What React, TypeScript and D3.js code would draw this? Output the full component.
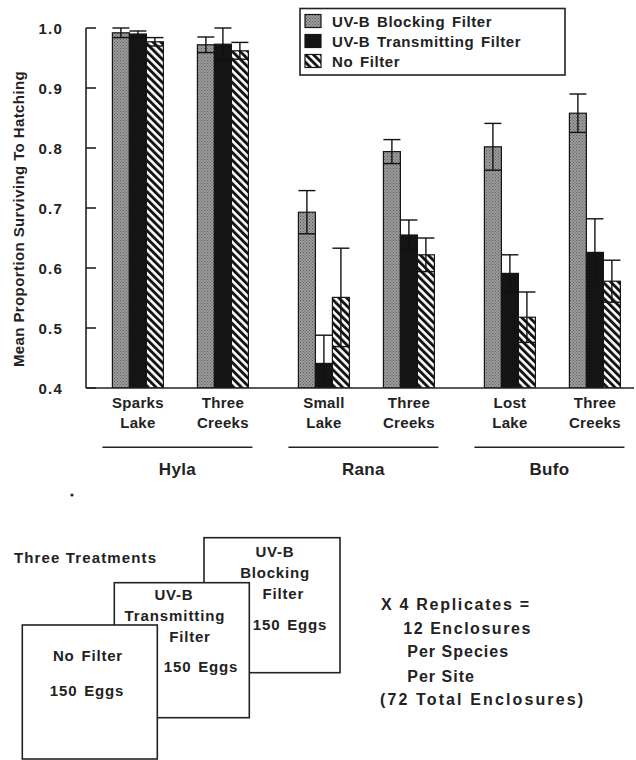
import React from 'react';
import * as d3 from 'd3';

const species = ['Hyla', 'Rana', 'Bufo'];
const siteSpecies = ['Hyla', 'Hyla', 'Rana', 'Rana', 'Bufo', 'Bufo'];
const siteLine1 = ['Sparks', 'Three', 'Small', 'Three', 'Lost', 'Three'];
const siteLine2 = ['Lake', 'Creeks', 'Lake', 'Creeks', 'Lake', 'Creeks'];
const treatments = ['UV-B Blocking Filter', 'UV-B Transmitting Filter', 'No Filter'];

const blockingMean = [0.992, 0.972, 0.693, 0.794, 0.802, 0.858];
const blockingSE = [0.008, 0.013, 0.036, 0.02, 0.039, 0.032];
const transmittingMean = [0.99, 0.973, 0.441, 0.655, 0.591, 0.626];
const transmittingSE = [0.005, 0.027, 0.047, 0.025, 0.031, 0.056];
const noFilterMean = [0.977, 0.962, 0.551, 0.622, 0.518, 0.578];
const noFilterSE = [0.007, 0.014, 0.082, 0.028, 0.042, 0.035];

const yTicks = [0.4, 0.5, 0.6, 0.7, 0.8, 0.9, 1.0];

const FONT = "'Liberation Sans', Arial, Helvetica, sans-serif";
const INK = '#222';

export default function App() {
  const y = d3.scaleLinear().domain([0.4, 1.0]).range([388, 28]);
  const xSpecies = d3.scaleBand<string>().domain(species).range([87.4, 645.4]);
  const xSite = d3.scaleBand<string>().domain(['0', '1']).range([8, 178]);
  const xTreat = d3.scaleBand<string>().domain(treatments).range([0, 85]).paddingInner(0).paddingOuter(1);
  const bw = xTreat.bandwidth();

  const means = [blockingMean, transmittingMean, noFilterMean];
  const ses = [blockingSE, transmittingSE, noFilterSE];
  const fills = ['url(#stipple)', '#141414', 'url(#stripes)'];

  const siteIndex = siteSpecies.map((sp, i) => siteSpecies.slice(0, i).filter((s) => s === sp).length);
  const siteX = siteSpecies.map((sp, i) => (xSpecies(sp) as number) + (xSite(String(siteIndex[i])) as number));
  const siteCenter = siteX.map((x) => x + (xTreat(treatments[0]) as number) + (bw * 3) / 2);

  const text = (extra: any = {}) => ({ fontFamily: FONT, fontWeight: 700, fill: INK, ...extra });

  return (
    <svg width={636} height={760} style={{ position: 'absolute', left: 0, top: 0, background: '#fff' }}>
      <defs>
        <pattern id="stipple" width={3} height={3} patternUnits="userSpaceOnUse">
          <rect width={3} height={3} fill="#9c9c9c" />
          <rect x={0} y={0} width={1} height={1} fill="#5e5e5e" />
          <rect x={1.5} y={1.5} width={1} height={1} fill="#5e5e5e" />
        </pattern>
        <pattern id="stripes" width={5.5} height={5.5} patternUnits="userSpaceOnUse" patternTransform="rotate(-45)">
          <rect width={5.5} height={5.5} fill="#fff" />
          <rect width={2.9} height={5.5} fill="#141414" />
        </pattern>
        <clipPath id="plot">
          <rect x={86} y={0} width={550} height={388} />
        </clipPath>
      </defs>

      {/* bars */}
      <g clipPath="url(#plot)">
        {siteSpecies.map((sp, i) =>
          treatments.map((t, k) => {
            const x = siteX[i] + (xTreat(t) as number);
            const m = means[k][i];
            return (
              <rect key={`b${i}-${k}`} x={x} y={y(m)} width={bw} height={y(0.4) - y(m)}
                fill={fills[k]} stroke="#161616" strokeWidth={1.2} />
            );
          })
        )}
        {siteSpecies.map((sp, i) =>
          treatments.map((t, k) => {
            const x = siteX[i] + (xTreat(t) as number);
            const cx = x + bw / 2;
            const m = means[k][i];
            const se = ses[k][i];
            const lo = Math.max(0.4, m - se);
            return (
              <g key={`e${i}-${k}`} stroke="#111" strokeWidth={1.4}>
                <line x1={cx} x2={cx} y1={y(m + se)} y2={y(lo)} />
                <line x1={x} x2={x + bw} y1={y(m + se)} y2={y(m + se)} />
                <line x1={x} x2={x + bw} y1={y(lo)} y2={y(lo)} />
              </g>
            );
          })
        )}
      </g>

      {/* axes */}
      <line x1={86} x2={86} y1={28} y2={388} stroke={INK} strokeWidth={1.6} />
      <line x1={86} x2={634} y1={388} y2={388} stroke={INK} strokeWidth={1.6} />
      {yTicks.map((v) => (
        <g key={`t${v}`}>
          <line x1={86} x2={96} y1={y(v)} y2={y(v)} stroke={INK} strokeWidth={1.6} />
          <text x={63} y={y(v) + 5.5} textAnchor="end" fontSize={15} letterSpacing={1.2} style={text()}>
            {d3.format('.1f')(v)}
          </text>
        </g>
      ))}
      <text transform="translate(24,219) rotate(-90)" textAnchor="middle" fontSize={15} letterSpacing={0.4} style={text()}>
        Mean Proportion Surviving To Hatching
      </text>

      {/* site labels */}
      {siteSpecies.map((sp, i) => (
        <g key={`s${i}`}>
          <text x={siteCenter[i]} y={408.3} textAnchor="middle" fontSize={15} letterSpacing={0.3} style={text()}>
            {siteLine1[i]}
          </text>
          <text x={siteCenter[i]} y={428.3} textAnchor="middle" fontSize={15} letterSpacing={0.3} style={text()}>
            {siteLine2[i]}
          </text>
        </g>
      ))}

      {/* species labels */}
      {species.map((sp) => {
        const c = (xSpecies(sp) as number) + xSpecies.bandwidth() / 2 - 3;
        return (
          <g key={`sp${sp}`}>
            <line x1={c - 75} x2={c + 75} y1={447.3} y2={447.3} stroke={INK} strokeWidth={1.6} />
            <text x={c} y={475} textAnchor="middle" fontSize={17} letterSpacing={0.3} style={text()}>
              {sp}
            </text>
          </g>
        );
      })}

      {/* legend */}
      <rect x={300} y={8.5} width={265} height={66.5} fill="#fff" stroke={INK} strokeWidth={1.6} />
      {treatments.map((t, k) => (
        <g key={`l${k}`}>
          <rect x={305} y={14.5 + k * 20} width={16} height={13} fill={fills[k]} stroke="#161616" strokeWidth={1.2} />
          <text x={332} y={26.5 + k * 20} fontSize={15} letterSpacing={0.6} wordSpacing={2} style={text()}>
            {t}
          </text>
        </g>
      ))}

      {/* diagram */}
      <circle cx={72} cy={495} r={1.6} fill={INK} />
      <text x={14} y={563} fontSize={15} textLength={142} lengthAdjust="spacing" style={text()}>
        Three Treatments
      </text>

      <rect x={204} y={537.7} width={136} height={135} fill="#fff" stroke={INK} strokeWidth={1.6} />
      <text x={275} y={557.3} textAnchor="middle" fontSize={15} letterSpacing={0.8} style={text()}>UV-B</text>
      <text x={275} y={578.3} textAnchor="middle" fontSize={15} letterSpacing={0.8} style={text()}>Blocking</text>
      <text x={283.3} y={599.3} textAnchor="middle" fontSize={15} letterSpacing={0.8} style={text()}>Filter</text>
      <text x={290} y={630} textAnchor="middle" fontSize={15} letterSpacing={0.8} wordSpacing={2} style={text()}>150 Eggs</text>

      <rect x={114.3} y={582.7} width={135} height={135} fill="#fff" stroke={INK} strokeWidth={1.6} />
      <text x={174} y={600} textAnchor="middle" fontSize={15} letterSpacing={0.8} style={text()}>UV-B</text>
      <text x={175} y={620.5} textAnchor="middle" fontSize={15} letterSpacing={0.9} style={text()}>Transmitting</text>
      <text x={190} y={641.7} textAnchor="middle" fontSize={15} letterSpacing={0.8} style={text()}>Filter</text>
      <text x={201} y={672} textAnchor="middle" fontSize={15} letterSpacing={0.8} wordSpacing={2} style={text()}>150 Eggs</text>

      <rect x={22.3} y={625} width={135} height={134} fill="#fff" stroke={INK} strokeWidth={1.6} />
      <text x={88} y={660.7} textAnchor="middle" fontSize={15} letterSpacing={0.8} wordSpacing={2} style={text()}>No Filter</text>
      <text x={87} y={695.5} textAnchor="middle" fontSize={15} letterSpacing={0.8} wordSpacing={2} style={text()}>150 Eggs</text>

      <text x={381} y={610} fontSize={16} textLength={148} lengthAdjust="spacing" style={text()}>X 4 Replicates =</text>
      <text x={403.3} y={634} fontSize={16} textLength={127} lengthAdjust="spacing" style={text()}>12 Enclosures</text>
      <text x={407.3} y={657.3} fontSize={16} letterSpacing={1} style={text()}>Per Species</text>
      <text x={407.3} y={681.7} fontSize={16} letterSpacing={1} style={text()}>Per Site</text>
      <text x={380} y={705} fontSize={16} textLength={203} lengthAdjust="spacing" style={text()}>(72 Total Enclosures)</text>
    </svg>
  );
}
